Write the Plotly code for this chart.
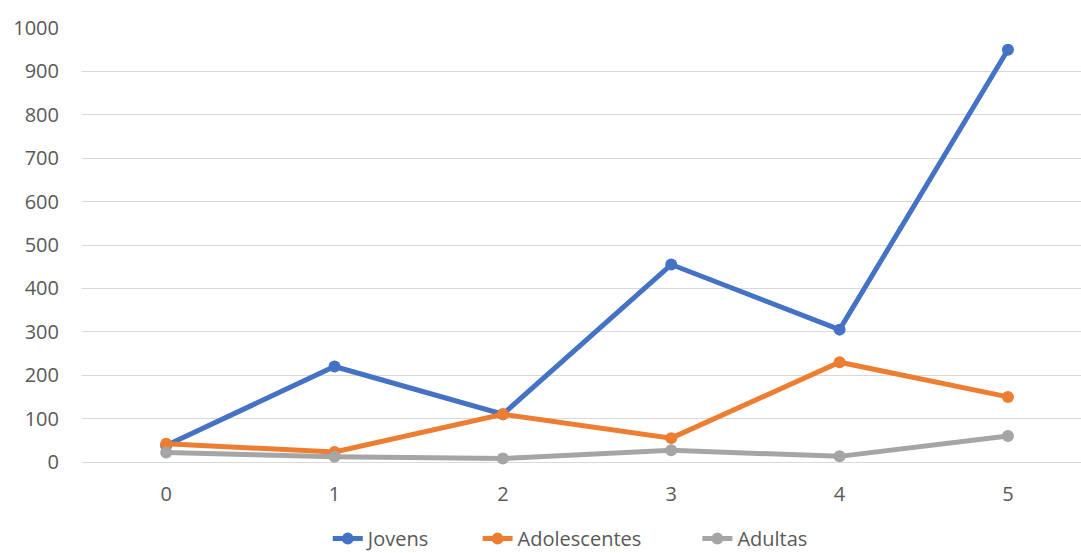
import plotly.graph_objects as go

categories = [0, 1, 2, 3, 4, 5]
jovens = [38, 220, 110, 455, 305, 950]
adolescentes = [42, 23, 110, 55, 230, 150]
adultas = [22, 12, 8, 27, 13, 60]
y_ticks = [0, 100, 200, 300, 400, 500, 600, 700, 800, 900, 1000]

series = [
    ("Jovens", jovens, "#4472C4", "legend", 0.246),
    ("Adolescentes", adolescentes, "#ED7D31", "legend2", 0.396),
    ("Adultas", adultas, "#A5A5A5", "legend3", 0.616),
]

font = dict(family="Open Sans", size=20, color="#595959")

fig = go.Figure()
legends = {}
for name, vals, color, leg, lx in series:
    fig.add_trace(go.Scatter(
        x=categories, y=vals, name=name, mode="lines+markers",
        line=dict(color=color, width=5),
        marker=dict(color=color, size=12),
        cliponaxis=False, legend=leg,
    ))
    legends[leg] = dict(orientation="h", x=lx, xanchor="left", y=0.026, yref="container",
                        yanchor="middle", font=font, itemwidth=30, bgcolor="rgba(0,0,0,0)")

fig.update_layout(
    width=1081, height=553,
    margin=dict(l=82, r=0, t=28, b=91, autoexpand=False),
    paper_bgcolor="white", plot_bgcolor="white",
    font=font,
    showlegend=True,
    xaxis=dict(range=[-0.5, 5.434], tickvals=categories, showgrid=False, zeroline=False,
               showline=False, ticks="", ticklabelstandoff=18, tickfont=font),
    yaxis=dict(range=[0, 1000], tickvals=y_ticks, showgrid=True, gridcolor="#D9D9D9",
               gridwidth=1.3, zeroline=True, zerolinecolor="#D9D9D9", zerolinewidth=1.3,
               showline=False, ticks="", ticklabelstandoff=22, tickfont=font),
    **legends,
)

fig.write_html("out.html")
